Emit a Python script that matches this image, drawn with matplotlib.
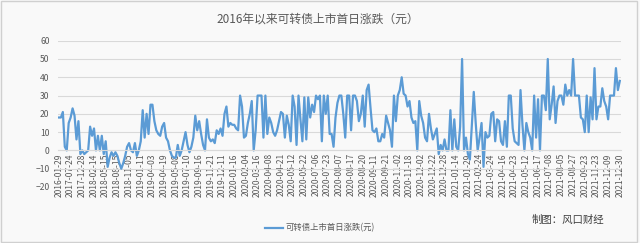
import matplotlib.pyplot as plt
from matplotlib.patches import Rectangle

plt.rcParams['font.family'] = ['Noto Sans CJK SC', 'DejaVu Sans']

title = '2016年以来可转债上市首日涨跌（元）'
series_name = '可转债上市首日涨跌(元)'
credit = '制图：风口财经'

# category labels shown on the axis (one every 6 points)
tick_labels = [
    '2016-01-29', '2017-07-24', '2017-12-28', '2018-02-14', '2018-05-15',
    '2018-08-15', '2018-11-05', '2019-01-11', '2019-04-03', '2019-04-19',
    '2019-05-08', '2019-07-10', '2019-09-16', '2019-11-21', '2019-12-11',
    '2020-01-16', '2020-02-04', '2020-03-16', '2020-04-08', '2020-04-21',
    '2020-05-12', '2020-05-22', '2020-07-06', '2020-07-23', '2020-08-07',
    '2020-08-17', '2020-08-20', '2020-09-11', '2020-09-21', '2020-11-02',
    '2020-11-18', '2020-12-02', '2020-12-22', '2020-12-28', '2021-01-14',
    '2021-01-29', '2021-02-24', '2021-03-24', '2021-04-16', '2021-04-23',
    '2021-05-12', '2021-06-17', '2021-07-08', '2021-08-05', '2021-08-27',
    '2021-09-23', '2021-11-23', '2021-12-09', '2021-12-30',
]

# first-day change per bond
values = [
    18, 18, 21, 2, 0, 15,
    18, 23, 19, 6, 16, -2,
    0, -2, -1, 0, 13, 8,
    12, 0, 8, 0, 8, -2,
    5, -9, -4, -1, -3, -1,
    -3, -7, -10, -7, -3, 2,
    4, 0, -1, 4, -3, 0,
    5, 22, 7, 20, 9, 25,
    25, 16, 11, 9, 8, 13,
    15, 7, 5, 0, -3, -4,
    -4, 3, -3, 0, 5, 10,
    3, -1, 2, 7, 19, 11,
    16, 9, 3, 0, 17, 7,
    5, 6, 4, 11, 9, 12,
    8, 20, 24, 13, 15, 14,
    14, 12, 11, 30, 24, 7,
    8, 15, 20, 27, 0, 11,
    30, 30, 30, 7, 30, 9,
    18, 15, 10, 8, 11, 16,
    21, 20, 7, 19, 14, 5,
    30, 24, 3, 30, 17, 5,
    29, 6, 29, 18, 25, 21,
    30, 28, 30, 5, 30, 20,
    30, 9, 9, 2, 18, 26,
    30, 30, 20, 7, 30, 30,
    11, 30, 30, 27, 16, 20,
    30, 13, 33, 36, 23, 11,
    10, 12, 5, 5, 9, 7,
    19, 15, 11, 2, 30, 16,
    30, 33, 40, 31, 30, 24,
    27, 18, 15, 16, 0, 27,
    19, 15, 7, 5, 20, 12,
    6, 9, 12, -2, 3, 0,
    6, 0, 0, 22, 0, 17,
    2, 0, 13, 50, 0, 7,
    -2, -5, 13, 32, 15, 0,
    7, 15, -9, 10, 7, 8,
    20, 21, 5, 17, 16, 5,
    3, 16, 2, 30, 30, 12,
    5, 4, 3, 33, 14, 0,
    15, 10, 7, 0, 30, 7,
    28, 0, 30, 30, 22, 50,
    17, 25, 35, 15, 27, 30,
    30, 25, 36, 30, 33, 30,
    50, 30, 30, 30, 18, 17,
    10, 30, 10, 29, 17, 45,
    17, 24, 24, 34, 27, 24,
    17, 30, 30, 30, 45, 33,
    38,
]
step = 6

fig = plt.figure(figsize=(6.4, 2.43), dpi=100, facecolor='#f9f9f9')
fig.patches.append(Rectangle((0.002, 0.004), 0.994, 0.992, transform=fig.transFigure,
                             fill=False, edgecolor='#d0d0d0', linewidth=1))
ax = fig.add_axes([0.0906, 0.2305, 0.8794, 0.602])
ax.set_facecolor('none')

x = list(range(len(values)))
line, = ax.plot(x, values, color='#5B9BD5', linewidth=1.6, label=series_name)

ax.set_ylim(-20, 60)
ax.set_yticks(range(-20, 61, 10))
ax.set_xlim(-0.5, len(values) - 0.5)
ax.grid(axis='y', color='#d9d9d9', linewidth=0.8)
ax.set_axisbelow(True)
for s in ['top', 'right', 'left']:
    ax.spines[s].set_visible(False)
ax.spines['bottom'].set_position(('data', 0))
ax.spines['bottom'].set_color('#d9d9d9')
ax.spines['bottom'].set_linewidth(0.8)

ax.set_xticks([i * step for i in range(len(tick_labels))])
ax.set_xticklabels(tick_labels, rotation=90, fontsize=6.1, color='#595959')
ax.tick_params(axis='x', length=0, pad=2)
ax.tick_params(axis='y', length=0, pad=6, labelsize=6.2, labelcolor='#595959')

fig.text(0.497, 0.92, title, ha='center', va='center', fontsize=8.5, color='#595959')
fig.legend(handles=[line], loc='center', bbox_to_anchor=(0.5, 0.062), frameon=False,
           fontsize=6, labelcolor='#595959', handlelength=2.2, handletextpad=0.3)
fig.text(0.888, 0.095, credit, ha='center', va='center', fontsize=7.5, color='#404040')

fig.savefig('out.png', dpi=100, facecolor=fig.get_facecolor())
